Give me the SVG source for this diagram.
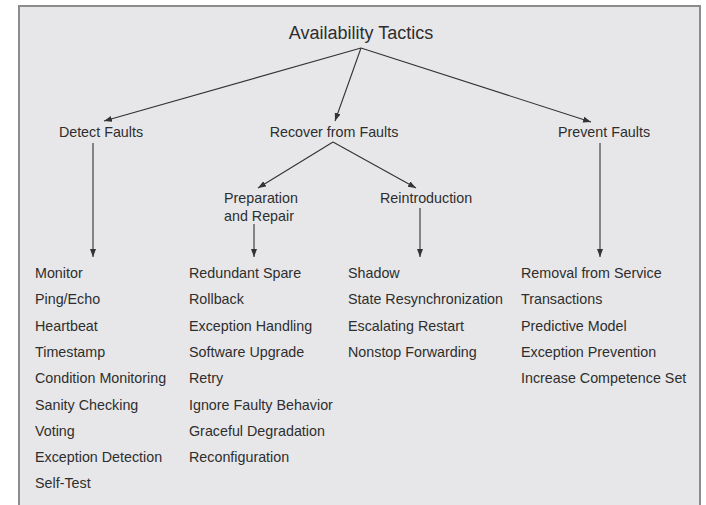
<svg xmlns="http://www.w3.org/2000/svg" width="706" height="505" viewBox="0 0 706 505">
  <style>
    text { font-family: "Liberation Sans", Arial, sans-serif; fill: #2e2e2e; }
    .title { font-size: 18px; text-anchor: middle; }
    .head { font-size: 14.3px; text-anchor: middle; }
    .sub { font-size: 14.3px; }
    .item { font-size: 14.3px; }
    .conn { stroke: #333; stroke-width: 1.1; fill: none; marker-end: url(#arrow); }
  </style>
  <defs>
    <marker id="arrow" markerUnits="userSpaceOnUse" markerWidth="9" markerHeight="7" refX="8" refY="3" orient="auto">
      <path d="M0,0 L8,3 L0,6 z" fill="#333"/>
    </marker>
  </defs>

  <!-- panel -->
  <rect x="0" y="0" width="706" height="505" fill="#ffffff"/>
  <rect x="19" y="6" width="681" height="520" fill="#e7e7e9" stroke="#8c8c8c" stroke-width="2"/>

  <!-- connectors -->
  <g id="connectors">
    <path class="conn" d="M361,48 L104,121"/>
    <path class="conn" d="M361,48 L335,121"/>
    <path class="conn" d="M361,48 L591,122"/>
    <path class="conn" d="M333,142 L258,188"/>
    <path class="conn" d="M333,142 L416,188"/>
    <path class="conn" d="M93,143 L93,257"/>
    <path class="conn" d="M254,224 L254,257"/>
    <path class="conn" d="M420,208 L420,257"/>
    <path class="conn" d="M600,143 L600,257"/>
  </g>

  <g id="availability-tactics">
    <text class="title" x="361" y="39">Availability Tactics</text>
  </g>

  <g id="detect-faults">
    <text class="head" x="101" y="137">Detect Faults</text>
  </g>
  <g id="recover-from-faults">
    <text class="head" x="334" y="137">Recover from Faults</text>
  </g>
  <g id="prevent-faults">
    <text class="head" x="604" y="137">Prevent Faults</text>
  </g>

  <g id="preparation-and-repair">
    <text class="sub" x="224" y="203">Preparation</text>
    <text class="sub" x="224" y="221">and Repair</text>
  </g>
  <g id="reintroduction">
    <text class="sub" x="380" y="203">Reintroduction</text>
  </g>

  <g id="detect-list">
    <text class="item" x="35" y="278">Monitor</text>
    <text class="item" x="35" y="304.3">Ping/Echo</text>
    <text class="item" x="35" y="330.6">Heartbeat</text>
    <text class="item" x="35" y="356.9">Timestamp</text>
    <text class="item" x="35" y="383.2">Condition Monitoring</text>
    <text class="item" x="35" y="409.5">Sanity Checking</text>
    <text class="item" x="35" y="435.8">Voting</text>
    <text class="item" x="35" y="462.1">Exception Detection</text>
    <text class="item" x="35" y="488.4">Self-Test</text>
  </g>

  <g id="preparation-list">
    <text class="item" x="189" y="278">Redundant Spare</text>
    <text class="item" x="189" y="304.3">Rollback</text>
    <text class="item" x="189" y="330.6">Exception Handling</text>
    <text class="item" x="189" y="356.9">Software Upgrade</text>
    <text class="item" x="189" y="383.2">Retry</text>
    <text class="item" x="189" y="409.5">Ignore Faulty Behavior</text>
    <text class="item" x="189" y="435.8">Graceful Degradation</text>
    <text class="item" x="189" y="462.1">Reconfiguration</text>
  </g>

  <g id="reintroduction-list">
    <text class="item" x="348" y="278">Shadow</text>
    <text class="item" x="348" y="304.3">State Resynchronization</text>
    <text class="item" x="348" y="330.6">Escalating Restart</text>
    <text class="item" x="348" y="356.9">Nonstop Forwarding</text>
  </g>

  <g id="prevent-list">
    <text class="item" x="521" y="278">Removal from Service</text>
    <text class="item" x="521" y="304.3">Transactions</text>
    <text class="item" x="521" y="330.6">Predictive Model</text>
    <text class="item" x="521" y="356.9">Exception Prevention</text>
    <text class="item" x="521" y="383.2">Increase Competence Set</text>
  </g>
</svg>
